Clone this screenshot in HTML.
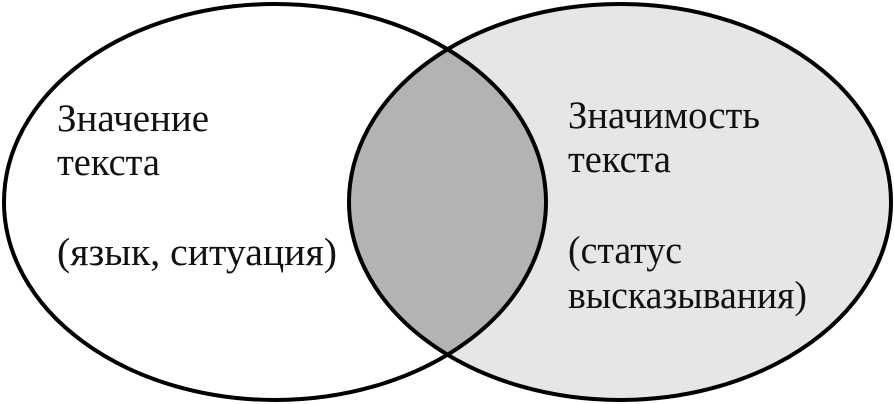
<!DOCTYPE html>
<html><head><meta charset="utf-8"><style>html,body{margin:0;padding:0;background:#fff}svg{display:block}</style></head>
<body>
<svg width="894" height="404" viewBox="0 0 894 404" xmlns="http://www.w3.org/2000/svg">
<defs><clipPath id="cl"><ellipse cx="275" cy="202" rx="271" ry="198"/></clipPath></defs>
<ellipse cx="620" cy="202" rx="271" ry="198" fill="#e6e6e6"/>
<ellipse cx="620" cy="202" rx="271" ry="198" fill="#b3b3b3" clip-path="url(#cl)"/>
<ellipse cx="275" cy="202" rx="271" ry="198" fill="none" stroke="#000" stroke-width="4"/>
<ellipse cx="620" cy="202" rx="271" ry="198" fill="none" stroke="#000" stroke-width="4"/>
<g font-family="'Liberation Serif', serif" font-size="39" fill="#111">
<text x="57" y="131" textLength="152" lengthAdjust="spacingAndGlyphs">Значение</text>
<text x="57" y="175" textLength="103" lengthAdjust="spacingAndGlyphs">текста</text>
<text x="57" y="265" textLength="280" lengthAdjust="spacingAndGlyphs">(язык, ситуация)</text>
<text x="568" y="128" textLength="192" lengthAdjust="spacingAndGlyphs">Значимость</text>
<text x="568" y="172" textLength="103" lengthAdjust="spacingAndGlyphs">текста</text>
<text x="568" y="263" textLength="114" lengthAdjust="spacingAndGlyphs">(статус</text>
<text x="568" y="308" textLength="239" lengthAdjust="spacingAndGlyphs">высказывания)</text>
</g>
</svg>
</body></html>
